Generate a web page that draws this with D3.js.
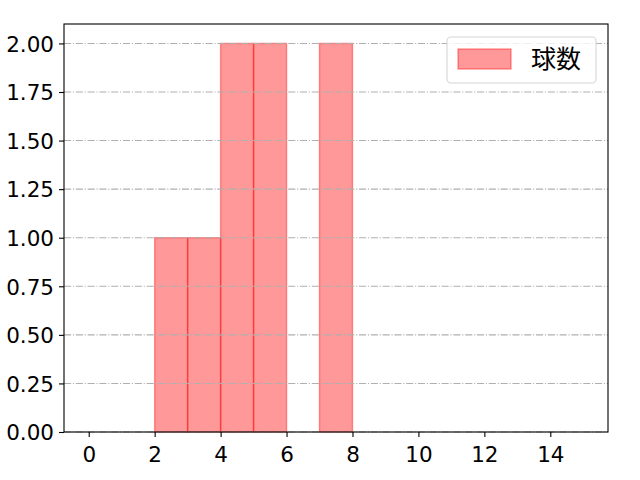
<!DOCTYPE html>
<html>
<head>
<meta charset="utf-8">
<script src="https://cdn.jsdelivr.net/npm/d3@7/dist/d3.min.js"></script>
<style>
  body { margin: 0; background: #fff; }
  text { font-family: "Noto Sans CJK JP", "Noto Sans", sans-serif; }
</style>
</head>
<body>
<svg id="chart" width="640" height="480"></svg>
<script>
// ヒストグラムのビン（左端, 右端）と度数
const binStarts = [2, 3, 4, 5, 7];
const binEnds = [3, 4, 5, 6, 8];
const counts = [1, 1, 2, 2, 2];
const xTicks = [0, 2, 4, 6, 8, 10, 12, 14];
const yTicks = [0, 0.25, 0.5, 0.75, 1.0, 1.25, 1.5, 1.75, 2.0];
const seriesName = '球数';

const svg = d3.select('#chart');
const margin = { top: 24, right: 32, bottom: 48, left: 64 };
const width = +svg.attr('width');
const height = +svg.attr('height');

// 軸スケール
const x = d3.scaleLinear().domain([-0.75, 15.75]).range([margin.left, width - margin.right]);
const y = d3.scaleLinear().domain([0, 2.1]).range([height - margin.bottom, margin.top]);

const bins = binStarts.map((s, i) => ({ x0: s, x1: binEnds[i], n: counts[i] }));

// 棒
svg.append('g')
  .selectAll('rect')
  .data(bins)
  .join('rect')
  .attr('x', d => x(d.x0))
  .attr('y', d => y(d.n))
  .attr('width', d => x(d.x1) - x(d.x0))
  .attr('height', d => y(0) - y(d.n))
  .attr('fill', 'rgba(255,0,0,0.4)')
  .attr('stroke', 'rgba(255,0,0,0.4)')
  .attr('stroke-width', 1.4);

// 横グリッド（一点鎖線）
svg.append('g')
  .selectAll('line')
  .data(yTicks)
  .join('line')
  .attr('x1', margin.left)
  .attr('x2', width - margin.right)
  .attr('y1', d => y(d))
  .attr('y2', d => y(d))
  .attr('stroke', '#b0b0b0')
  .attr('stroke-width', 1.1)
  .attr('stroke-dasharray', '7.1,1.8,1.1,1.8');

// 軸
const xAxis = svg.append('g')
  .attr('transform', `translate(0,${height - margin.bottom})`)
  .call(d3.axisBottom(x).tickValues(xTicks).tickSize(5).tickPadding(5).tickFormat(d3.format('d')));
const yAxis = svg.append('g')
  .attr('transform', `translate(${margin.left},0)`)
  .call(d3.axisLeft(y).tickValues(yTicks).tickSize(5).tickPadding(5).tickFormat(d3.format('.2f')));

[xAxis, yAxis].forEach(g => {
  g.select('.domain').remove();
  g.selectAll('.tick line').attr('stroke', '#000').attr('stroke-width', 1.1);
  g.selectAll('.tick text').attr('fill', '#000')
    .style('font-family', '"DejaVu Sans", sans-serif')
    .style('font-size', '21.5px');
});
xAxis.selectAll('.tick text').attr('dy', '0.95em');
yAxis.selectAll('.tick text').attr('dy', '0.36em');

// 枠
svg.append('rect')
  .attr('x', margin.left)
  .attr('y', margin.top)
  .attr('width', width - margin.left - margin.right)
  .attr('height', height - margin.top - margin.bottom)
  .attr('fill', 'none')
  .attr('stroke', '#000')
  .attr('stroke-width', 1.1);

// 凡例
const legend = svg.append('g');
legend.append('rect')
  .attr('x', 447).attr('y', 37).attr('width', 149).attr('height', 46)
  .attr('rx', 4)
  .attr('fill', 'rgba(255,255,255,0.8)')
  .attr('stroke', '#d5d5d5').attr('stroke-width', 1.1);
legend.append('rect')
  .attr('x', 458).attr('y', 49).attr('width', 53).attr('height', 20)
  .attr('fill', 'rgba(255,0,0,0.4)')
  .attr('stroke', 'rgba(255,0,0,0.4)')
  .attr('stroke-width', 1.4);
legend.append('text')
  .attr('x', 531).attr('y', 68)
  .style('font-size', '25px')
  .text(seriesName);
</script>
</body>
</html>
